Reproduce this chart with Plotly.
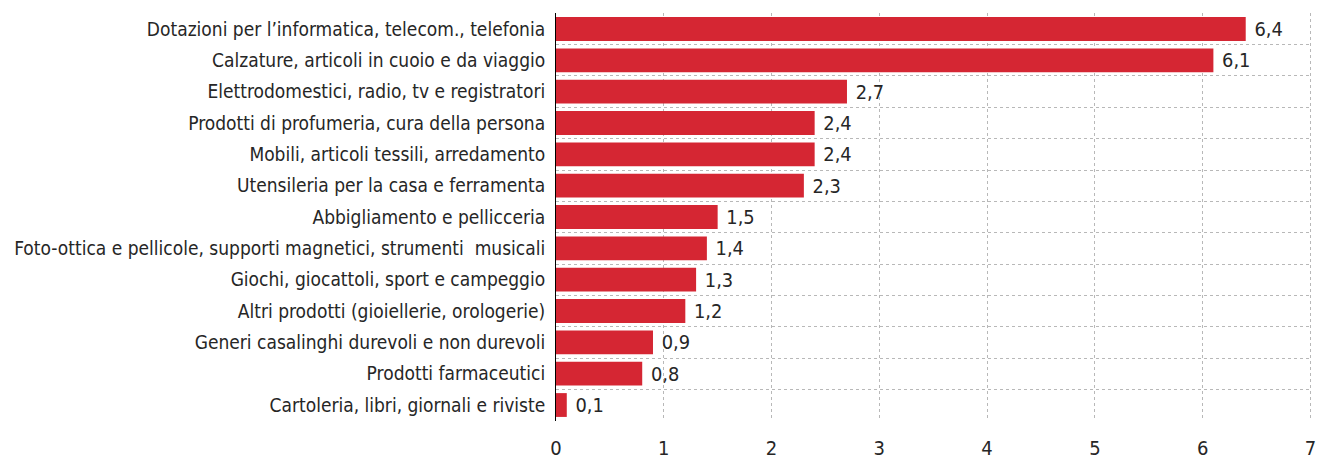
import plotly.graph_objects as go

categories = [
    "Dotazioni per l’informatica, telecom., telefonia",
    "Calzature, articoli in cuoio e da viaggio",
    "Elettrodomestici, radio, tv e registratori",
    "Prodotti di profumeria, cura della persona",
    "Mobili, articoli tessili, arredamento",
    "Utensileria per la casa e ferramenta",
    "Abbigliamento e pellicceria",
    "Foto-ottica e pellicole, supporti magnetici, strumenti  musicali",
    "Giochi, giocattoli, sport e campeggio",
    "Altri prodotti (gioiellerie, orologerie)",
    "Generi casalinghi durevoli e non durevoli",
    "Prodotti farmaceutici",
    "Cartoleria, libri, giornali e riviste",
]
values = [6.4, 6.1, 2.7, 2.4, 2.4, 2.3, 1.5, 1.4, 1.3, 1.2, 0.9, 0.8, 0.1]
x_ticks = [0, 1, 2, 3, 4, 5, 6, 7]

n = len(categories)
ypos = list(range(n - 1, -1, -1))

FONT = "Liberation Sans Narrow, Arial Narrow, DejaVu Sans Condensed, sans-serif"

fig = go.Figure(go.Bar(
    x=values,
    y=ypos,
    orientation="h",
    marker=dict(color="#D52633", line=dict(width=0)),
    width=0.76,
    texttemplate=" %{x:.1f}",
    textposition="outside",
    textfont=dict(family=FONT, size=20, color="#262626"),
    cliponaxis=False,
))

# page body has an 8px default margin: margins compensate for it
fig.update_layout(
    width=1331, height=459,
    margin=dict(l=548, r=27, t=5, b=46, autoexpand=False),
    paper_bgcolor="white", plot_bgcolor="white",
    separators=",.",
    showlegend=False,
    font=dict(family=FONT, size=19, color="#262626"),
    xaxis=dict(
        range=[0, 7.015], tickvals=x_ticks, showgrid=True,
        gridcolor="#b8b8b8", griddash="dot", gridwidth=1,
        zeroline=False, showline=False, automargin=False,
        ticks="outside", ticklen=9, tickcolor="rgba(0,0,0,0)",
        tickfont=dict(size=20), ticklabeloverflow="allow",
    ),
    yaxis=dict(
        range=[-0.51, n - 0.49], tickvals=ypos, ticktext=categories,
        showgrid=False, zeroline=False, automargin=False,
        showline=True, linecolor="black", linewidth=1,
        ticks="", ticklabelstandoff=6,
        minor=dict(tick0=-0.5, dtick=1, showgrid=True, gridcolor="#b8b8b8",
                   griddash="dot", gridwidth=1),
    ),
)

fig.write_html("out.html")
